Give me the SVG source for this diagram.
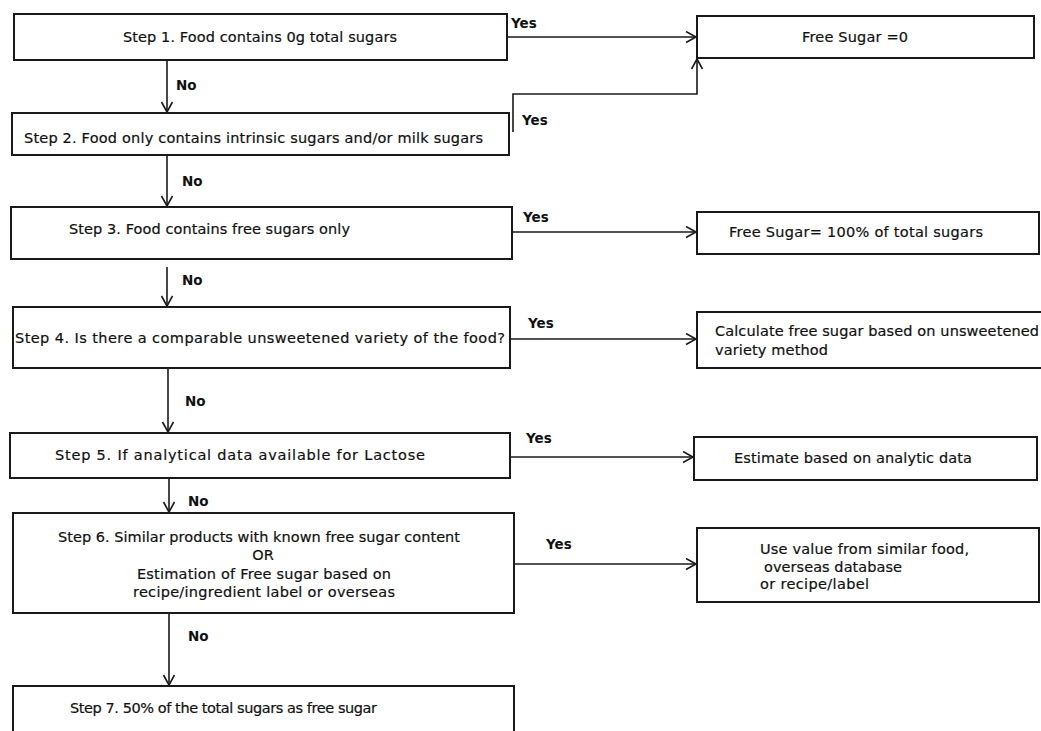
<svg xmlns="http://www.w3.org/2000/svg" width="1041" height="731" viewBox="0 0 1041 731">
  <defs>
    <style>
      .box { fill: #ffffff; stroke: #1a1a1a; stroke-width: 2; }
      .t { font-family: "DejaVu Sans", Verdana, sans-serif; font-size: 14.5px; fill: #111; stroke: #111; stroke-width: 0.2; }
      .lbl { font-family: "DejaVu Sans", Verdana, sans-serif; font-size: 13.5px; font-weight: bold; fill: #111; }
      .c { text-anchor: middle; }
      .link { fill: none; stroke: #1a1a1a; stroke-width: 1.6; marker-end: url(#chev); }
    </style>
    <marker id="chev" markerUnits="userSpaceOnUse" markerWidth="14" markerHeight="14" refX="11" refY="6" orient="auto">
      <path d="M1,0.5 L11,6 L1,11.5" fill="none" stroke="#1a1a1a" stroke-width="1.6"/>
    </marker>
  </defs>
  <rect width="1041" height="731" fill="#ffffff"/>

  <!-- connectors -->
  <g id="connectors">
    <line class="link" x1="507" y1="37" x2="696" y2="37"/>
    <path class="link" d="M513,132 V94 H697 V59"/>
    <line class="link" x1="512" y1="232" x2="696" y2="232"/>
    <line class="link" x1="510" y1="339" x2="696" y2="339"/>
    <line class="link" x1="510" y1="457" x2="693" y2="457"/>
    <line class="link" x1="514" y1="564" x2="696" y2="564"/>
    <line class="link" x1="167" y1="60" x2="167" y2="112"/>
    <line class="link" x1="167" y1="155" x2="167" y2="206"/>
    <line class="link" x1="167" y1="267" x2="167" y2="306"/>
    <line class="link" x1="168" y1="368" x2="168" y2="432"/>
    <line class="link" x1="169" y1="478" x2="169" y2="512"/>
    <line class="link" x1="169" y1="613" x2="169" y2="685"/>
    <text class="lbl" x="511" y="28">Yes</text>
    <text class="lbl" x="522" y="125">Yes</text>
    <text class="lbl" x="523" y="222">Yes</text>
    <text class="lbl" x="528" y="328">Yes</text>
    <text class="lbl" x="526" y="443">Yes</text>
    <text class="lbl" x="546" y="549">Yes</text>
    <text class="lbl" x="176" y="90">No</text>
    <text class="lbl" x="182" y="186">No</text>
    <text class="lbl" x="182" y="285">No</text>
    <text class="lbl" x="185" y="406">No</text>
    <text class="lbl" x="188" y="506">No</text>
    <text class="lbl" x="188" y="641">No</text>
  </g>

  <!-- decision steps -->
  <g id="step1">
    <rect class="box" x="14" y="14" width="493" height="46"/>
    <text class="t c" x="260" y="42" textLength="274">Step 1. Food contains 0g total sugars</text>
  </g>
  <g id="step2">
    <rect class="box" x="12" y="113" width="497" height="42"/>
    <text class="t" x="24" y="143" textLength="459">Step 2. Food only contains intrinsic sugars and/or milk sugars</text>
  </g>
  <g id="step3">
    <rect class="box" x="11" y="207" width="501" height="52"/>
    <text class="t" x="69" y="234" textLength="281">Step 3. Food contains free sugars only</text>
  </g>
  <g id="step4">
    <rect class="box" x="13" y="307" width="497" height="61"/>
    <text class="t" x="15" y="343" textLength="490">Step 4. Is there a comparable unsweetened variety of the food?</text>
  </g>
  <g id="step5">
    <rect class="box" x="10" y="433" width="500" height="45"/>
    <text class="t" x="55" y="460" textLength="370">Step 5. If analytical data available for Lactose</text>
  </g>
  <g id="step6">
    <rect class="box" x="13" y="513" width="501" height="100"/>
    <text class="t c" x="259" y="542" textLength="402">Step 6. Similar products with known free sugar content</text>
    <text class="t c" x="263" y="560">OR</text>
    <text class="t c" x="264" y="579" textLength="254">Estimation of Free sugar based on</text>
    <text class="t c" x="264" y="597" textLength="262">recipe/ingredient label or overseas</text>
  </g>
  <g id="step7">
    <rect class="box" x="13" y="686" width="501" height="60"/>
    <text class="t" x="70" y="713" textLength="307">Step 7. 50% of the total sugars as free sugar</text>
  </g>

  <!-- outcomes -->
  <g id="out-zero">
    <rect class="box" x="697" y="16" width="337" height="42"/>
    <text class="t c" x="855" y="42" textLength="106">Free Sugar =0</text>
  </g>
  <g id="out-full">
    <rect class="box" x="697" y="212" width="342" height="42"/>
    <text class="t" x="729" y="237" textLength="254">Free Sugar= 100% of total sugars</text>
  </g>
  <g id="out-unsweetened">
    <rect class="box" x="697" y="312" width="360" height="56"/>
    <text class="t" x="715" y="336" textLength="324">Calculate free sugar based on unsweetened</text>
    <text class="t" x="715" y="355" textLength="113">variety method</text>
  </g>
  <g id="out-analytic">
    <rect class="box" x="694" y="437" width="343" height="43"/>
    <text class="t" x="734" y="463" textLength="238">Estimate based on analytic data</text>
  </g>
  <g id="out-similar">
    <rect class="box" x="697" y="528" width="342" height="74"/>
    <text class="t" x="760" y="554" textLength="209">Use value from similar food,</text>
    <text class="t" x="764" y="572" textLength="138">overseas database</text>
    <text class="t" x="760" y="589" textLength="109">or recipe/label</text>
  </g>
</svg>
